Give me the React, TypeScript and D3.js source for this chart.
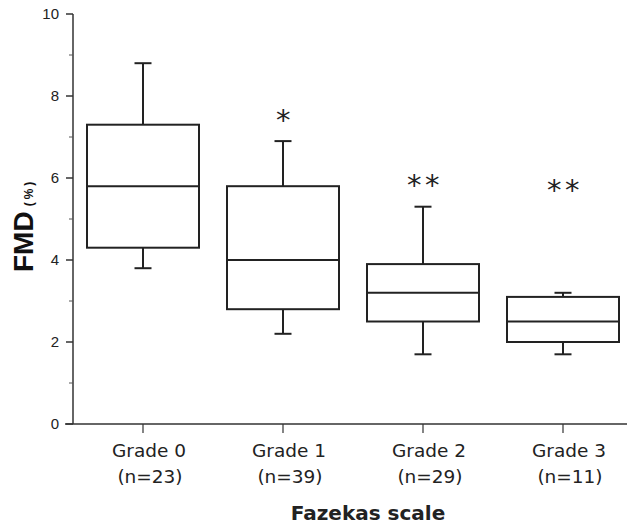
import React, { useEffect, useRef } from 'react';
import * as d3 from 'd3';

// values (FMD %)
const grades = ['Grade 0', 'Grade 1', 'Grade 2', 'Grade 3'];
const counts = ['(n=23)', '(n=39)', '(n=29)', '(n=11)'];
const whiskerLow = [3.8, 2.2, 1.7, 1.7];
const q1 = [4.3, 2.8, 2.5, 2.0];
const median = [5.8, 4.0, 3.2, 2.5];
const q3 = [7.3, 5.8, 3.9, 3.1];
const whiskerHigh = [8.8, 6.9, 5.3, 3.2];
const marks = ['', '*', '**', '**'];
const markY = [0, 7.57, 5.99, 5.88];
const yMajor = [0, 2, 4, 6, 8, 10];
const yMinor = [1, 3, 5, 7, 9];

export default function App() {
    const chartRef = useRef<SVGSVGElement | null>(null);

    useEffect(() => {
        if (!chartRef.current) return;
        const svg = d3.select(chartRef.current);
        svg.selectAll('*').remove();

        const width = 627, height = 524;
        const left = 73, top = 14, bottom = 424;
        const ink = '#222';

        const y = d3.scaleLinear().domain([0, 10]).range([bottom, top]);
        const x = d3.scaleBand<string>()
            .domain(grades)
            .range([left, 633])
            .paddingInner(0.2)
            .paddingOuter(0.1);
        const bw = x.bandwidth();
        const cx = (g: string) => (x(g) ?? 0) + bw / 2;

        // axes
        svg.append('line')
            .attr('x1', left).attr('x2', left)
            .attr('y1', y(10)).attr('y2', y(0))
            .attr('stroke', '#333').attr('stroke-width', 1.5);
        svg.append('line')
            .attr('x1', left - 8).attr('x2', width)
            .attr('y1', y(0)).attr('y2', y(0))
            .attr('stroke', '#333').attr('stroke-width', 1.5);

        svg.selectAll('.ymaj')
            .data(yMajor)
            .enter().append('line')
            .attr('x1', left - 7).attr('x2', left)
            .attr('y1', d => y(d)).attr('y2', d => y(d))
            .attr('stroke', '#333').attr('stroke-width', 1.5);
        svg.selectAll('.ymin')
            .data(yMinor)
            .enter().append('line')
            .attr('x1', left - 4).attr('x2', left)
            .attr('y1', d => y(d)).attr('y2', d => y(d))
            .attr('stroke', '#555').attr('stroke-width', 1);
        svg.selectAll('.ylab')
            .data(yMajor)
            .enter().append('text')
            .attr('x', 59).attr('y', d => y(d))
            .attr('dy', '0.36em')
            .attr('text-anchor', 'end')
            .style('font-family', '"Liberation Sans", Arial, sans-serif')
            .style('font-size', '15px')
            .attr('fill', ink)
            .text(d => d);

        svg.selectAll('.xtick')
            .data(grades)
            .enter().append('line')
            .attr('x1', d => cx(d)).attr('x2', d => cx(d))
            .attr('y1', y(0)).attr('y2', y(0) + 9)
            .attr('stroke', '#333').attr('stroke-width', 1.2);

        const labelFont = '"DejaVu Sans", Verdana, sans-serif';
        svg.selectAll('.xlab')
            .data(grades)
            .enter().append('text')
            .attr('x', d => cx(d) + 6).attr('y', 457)
            .attr('text-anchor', 'middle')
            .style('font-family', labelFont)
            .style('font-size', '18.5px')
            .attr('fill', ink)
            .text(d => d);
        svg.selectAll('.nlab')
            .data(grades)
            .enter().append('text')
            .attr('x', d => cx(d) + 7).attr('y', 483)
            .attr('text-anchor', 'middle')
            .style('font-family', labelFont)
            .style('font-size', '18.5px')
            .attr('fill', ink)
            .text((d, i) => counts[i]);

        svg.append('text')
            .attr('x', 368).attr('y', 520)
            .attr('text-anchor', 'middle')
            .style('font-family', labelFont)
            .style('font-size', '20px')
            .style('font-weight', 'bold')
            .attr('fill', ink)
            .text('Fazekas scale');

        const ylab = svg.append('text')
            .attr('transform', 'translate(33,272) rotate(-90)')
            .style('font-family', '"Liberation Sans", Arial, sans-serif')
            .style('font-weight', 'bold')
            .attr('fill', '#111');
        ylab.append('tspan').style('font-size', '28px').text('FMD');
        ylab.append('tspan').attr('dx', 5).style('font-size', '12px')
            .style('letter-spacing', '3px').text('(%)');

        // boxes
        const box = svg.selectAll('.box')
            .data(grades)
            .enter().append('g');
        const cap = 8.5;
        box.append('line')
            .attr('x1', d => cx(d)).attr('x2', d => cx(d))
            .attr('y1', (d, i) => y(whiskerHigh[i])).attr('y2', (d, i) => y(q3[i]));
        box.append('line')
            .attr('x1', d => cx(d)).attr('x2', d => cx(d))
            .attr('y1', (d, i) => y(q1[i])).attr('y2', (d, i) => y(whiskerLow[i]));
        box.append('line')
            .attr('x1', d => cx(d) - cap).attr('x2', d => cx(d) + cap)
            .attr('y1', (d, i) => y(whiskerHigh[i])).attr('y2', (d, i) => y(whiskerHigh[i]));
        box.append('line')
            .attr('x1', d => cx(d) - cap).attr('x2', d => cx(d) + cap)
            .attr('y1', (d, i) => y(whiskerLow[i])).attr('y2', (d, i) => y(whiskerLow[i]));
        box.append('rect')
            .attr('x', d => x(d) ?? 0)
            .attr('y', (d, i) => y(q3[i]))
            .attr('width', bw)
            .attr('height', (d, i) => y(q1[i]) - y(q3[i]))
            .attr('fill', 'white');
        box.append('line')
            .attr('x1', d => x(d) ?? 0).attr('x2', d => (x(d) ?? 0) + bw)
            .attr('y1', (d, i) => y(median[i])).attr('y2', (d, i) => y(median[i]));
        box.selectAll('line, rect')
            .attr('stroke', ink)
            .attr('stroke-width', 2);

        // significance marks
        svg.selectAll('.mark')
            .data(grades.filter((d, i) => marks[i]))
            .enter().append('text')
            .attr('x', d => cx(d) + 2)
            .attr('y', d => y(markY[grades.indexOf(d)]))
            .attr('dy', '0.58em')
            .attr('text-anchor', 'middle')
            .style('font-family', labelFont)
            .style('font-size', '29px')
            .style('letter-spacing', '3.5px')
            .attr('fill', ink)
            .text(d => marks[grades.indexOf(d)]);
    }, []);

    return (
        <svg
            ref={chartRef}
            width={627}
            height={524}
            style={{ position: 'absolute', left: 0, top: 0, background: '#fff' }}
        />
    );
}
